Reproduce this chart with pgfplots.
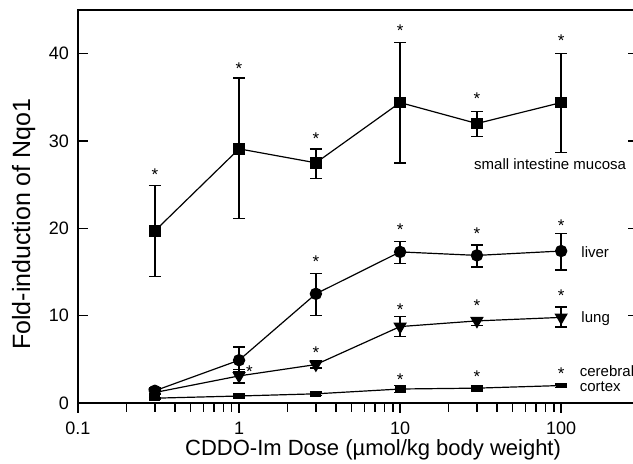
\documentclass[border=0pt]{standalone}
\usepackage{fontspec}
\setmainfont{Liberation Sans}
\usepackage{pgfplots}
\pgfplotsset{compat=1.18}
\begin{document}
\begin{tikzpicture}
\begin{axis}[
  scale only axis, width=280pt, height=196.5pt,
  xmode=log, xmin=0.1, xmax=300, ymin=0, ymax=45,
  axis line style={line width=1pt},
  /pgf/number format/assume math mode=true,
  xtick={0.1,1,10,100}, xticklabels={0.1,1,10,100},
  ytick={0,10,20,30,40},
  xtick pos=left, xtick align=outside,
  ytick pos=both, ytick align=inside,
  major tick length=5pt, minor tick length=4.5pt,
  tick style={line width=0.8pt, black},
  tick label style={font=\fontsize{9}{10}\selectfont},
  xticklabel style={yshift=-1pt},
  yticklabel style={xshift=-1pt},
  every axis x label/.style={at={(axis description cs:0.527,-0.1196)}, anchor=center, font=\fontsize{11}{12}\selectfont},
  every axis y label/.style={at={(axis description cs:-0.097,0.455)}, anchor=center, rotate=90, font=\fontsize{12.5}{14}\selectfont},
  xlabel={CDDO-Im Dose (µmol/kg body weight)},
  ylabel={Fold-induction of Nqo1},
  clip=false,
  every axis plot/.append style={black, line width=0.6pt},
  error bars/error bar style={line width=0.75pt, black},
  error bars/error mark options={rotate=90, mark size=3pt, line width=0.75pt, black},
]
% small intestine mucosa
\addplot[mark=square*, mark size=2.6pt, mark options={solid, fill=black},
  error bars/.cd, y dir=both, y explicit] coordinates {
  (0.3,19.7) += (0,5.2) -= (0,5.2)
  (1,29.1) += (0,8.1) -= (0,8.0)
  (3,27.5) += (0,1.6) -= (0,1.8)
  (10,34.4) += (0,6.9) -= (0,6.9)
  (30,32.0) += (0,1.4) -= (0,1.5)
  (100,34.4) += (0,5.6) -= (0,5.7)
};
% liver
\addplot[mark=*, mark size=2.8pt, mark options={solid, fill=black},
  error bars/.cd, y dir=both, y explicit] coordinates {
  (0.3,1.4) += (0,0.3) -= (0,0.3)
  (1,4.9) += (0,1.5) -= (0,1.3)
  (3,12.5) += (0,2.35) -= (0,2.5)
  (10,17.3) += (0,1.2) -= (0,1.3)
  (30,16.9) += (0,1.2) -= (0,1.35)
  (100,17.4) += (0,2.0) -= (0,2.2)
};
% lung
\addplot[mark=triangle*, mark size=3.3pt, mark options={solid, fill=black, rotate=180},
  error bars/.cd, y dir=both, y explicit] coordinates {
  (0.3,1.2) += (0,0.2) -= (0,0.2)
  (1,3.1) += (0,0.75) -= (0,0.8)
  (3,4.4) += (0,0.4) -= (0,0.4)
  (10,8.75) += (0,1.15) -= (0,1.15)
  (30,9.4) += (0,0.4) -= (0,0.5)
  (100,9.8) += (0,1.2) -= (0,1.1)
};
% cerebral cortex
\addplot[mark=square*, mark size=2.5pt, mark options={solid, fill=black, yscale=0.45},
  error bars/.cd, y dir=both, y explicit] coordinates {
  (0.3,0.55) += (0,0.1) -= (0,0.1)
  (1,0.8) += (0,0.1) -= (0,0.1)
  (3,1.05) += (0,0.2) -= (0,0.2)
  (10,1.6) += (0,0.4) -= (0,0.4)
  (30,1.7) += (0,0.3) -= (0,0.3)
  (100,2.0) += (0,0.2) -= (0,0.2)
};
% significance asterisks
\addplot[draw=none, mark=none, nodes near coords={*},
  every node near coord/.append style={anchor=center, inner sep=0pt, yshift=-1.6pt,
  font=\fontsize{8.5}{9}\selectfont}] coordinates {
  (0.3,26.5) (1,38.7) (3,30.6) (10,43.0) (30,35.2) (100,41.8)
  (3,16.5) (10,20.2) (30,19.7) (100,20.7)
  (1.16,4.0) (3,6.1) (10,11.0) (30,11.5) (100,12.6)
  (10,3.0) (30,3.35) (100,3.7)
};
\node[anchor=west, font=\fontsize{7.5}{9}\selectfont, inner sep=0pt] at (axis cs:28.7,27.4) {small intestine mucosa};
\node[anchor=west, font=\fontsize{7.5}{9}\selectfont, inner sep=0pt] at (axis cs:133,17.3) {liver};
\node[anchor=west, font=\fontsize{7.5}{9}\selectfont, inner sep=0pt] at (axis cs:133,9.7) {lung};
\node[anchor=west, font=\fontsize{7.5}{9}\selectfont, inner sep=0pt] at (axis cs:130,3.67) {cerebral};
\node[anchor=west, font=\fontsize{7.5}{9}\selectfont, inner sep=0pt] at (axis cs:130,1.83) {cortex};
\end{axis}
\pgfresetboundingbox
\useasboundingbox (-39pt,-30.5pt) rectangle (277.5pt,201.5pt);
\end{tikzpicture}
\end{document}
